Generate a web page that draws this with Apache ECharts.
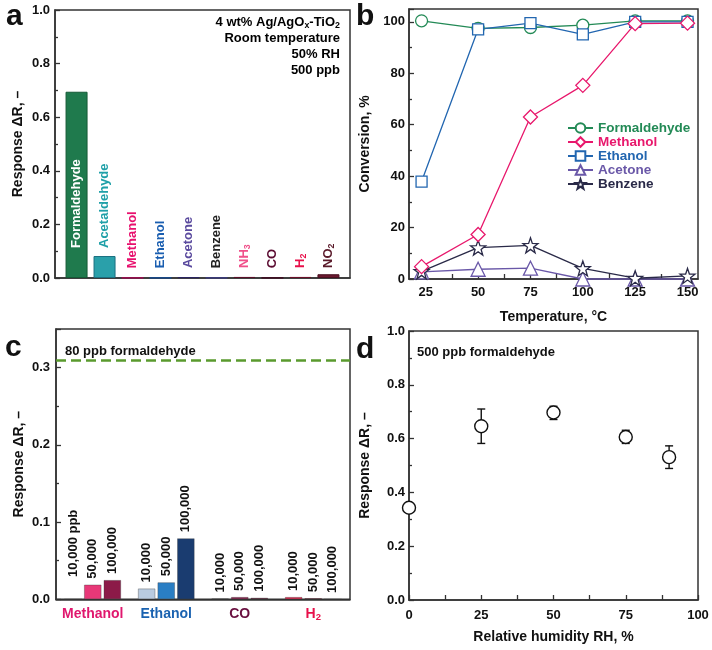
<!DOCTYPE html>
<html><head><meta charset="utf-8">
<script src="https://cdn.jsdelivr.net/npm/echarts@6/dist/echarts.min.js"></script>
<style>html,body{margin:0;padding:0;background:#fff}#c{width:712px;height:650px}</style>
</head><body><div id="c"></div>
<script>
// ---------- Panel a data ----------
const gasesA = ['Formaldehyde','Acetaldehyde','Methanol','Ethanol','Acetone','Benzene','NH3','CO','H2','NO2'];
const responseA = [0.695, 0.082, 0.001, 0.001, 0.003, 0.001, 0.004, 0.001, 0.004, 0.014];
const annotationA = ['4 wt% Ag/AgO{s|x}-TiO{s|2}', 'Room temperature', '50% RH', '500 ppb'];
// ---------- Panel b data ----------
const tempsB = [23, 50, 75, 100, 125, 150];
const tempTicksB = [25, 50, 75, 100, 125, 150];
const convFormaldehyde = [100.4, 97.5, 97.8, 98.7, 100.4, 100.4];
const convMethanol = [4.8, 17.3, 63.0, 75.3, 99.3, 99.5];
const convEthanol = [37.9, 97.1, 99.5, 95.1, 100.0, 100.0];
const convAcetone = [2.8, 3.8, 4.2, 0.0, 0.0, 0.0];
const convBenzene = [3.0, 12.2, 13.1, 4.1, 0.3, 1.2];
// ---------- Panel c data ----------
const gasesC = ['Methanol', 'Ethanol', 'CO', 'H2'];
const concLabelsC = ['10,000', '50,000', '100,000'];
const resp10k = [0.000, 0.014, 0.001, 0.003];
const resp50k = [0.019, 0.022, 0.003, 0.0015];
const resp100k = [0.025, 0.079, 0.002, 0.000];
const formaldehyde80ppb = 0.306;
// ---------- Panel d data ----------
const rhD = [0, 25, 50, 75, 90];
const respD = [0.343, 0.646, 0.697, 0.606, 0.531];
const errLowD = [0.343, 0.582, 0.671, 0.582, 0.489];
const errHighD = [0.343, 0.710, 0.720, 0.631, 0.573];

// ---------- styles ----------
const FONT = 'Liberation Sans, Arial, Helvetica, sans-serif';
const AX = '#333';
const barColorsA = ['#1f7a4d','#2aa0aa','#c8106a','#1a5ca8','#3a3580','#4b4ba0','#7a1a3a','#5a1030','#8a1a3a','#6b1a30'];
const barBordersA = ['#145a36','#1a6f80','#a00a50','#144a90','#2a2560','#3a3a80','#5a1028','#400a20','#6a1028','#4a1020'];
const labelColorsA = ['#ffffff','#1fa0a8','#e8106e','#1a5eb0','#5a4a9e','#222222','#f0508a','#5a0a30','#e8104a','#5a1a2a'];
const labelDistA = [30, 30, 10, 10, 10, 10, 10, 10, 10, 10];
const colors10k = ['#f080a8','#b9cbe0','#8a6a8a','#e8204a'];
const colors50k = ['#e83878','#2a7ec4','#8a1a4a','#a8183f'];
const colors100k = ['#8c1a48','#1a3c70','#6a1a3a','#c02050'];
const groupColorsC = ['#e0186e','#1a62b0','#6a1040','#e8104a'];
const lineColorsB = {Formaldehyde:'#238a56', Methanol:'#e8186c', Ethanol:'#2266b0', Acetone:'#6a58a8', Benzene:'#2a2a48'};
const STAR = 'path://M0,-10L2.35,-3.24L9.51,-3.09L3.8,1.24L5.88,8.09L0,4L-5.88,8.09L-3.8,1.24L-9.51,-3.09L-2.35,-3.24Z';

function subRich(name) {
  const m = name.match(/^(.*?)(\d+)$/);
  return m ? '{m|' + m[1] + '}{s|' + m[2] + '}' : '{m|' + name + '}';
}
function richFor(color, size) {
  return {
    m: {fontSize: size, fontWeight: 'bold', fontFamily: FONT, color: color, lineHeight: 16},
    s: {fontSize: size * 0.68, fontWeight: 'bold', fontFamily: FONT, color: color, lineHeight: 9, verticalAlign: 'bottom'}
  };
}
const tickLabel = {fontSize: 13, fontWeight: 'bold', fontFamily: FONT, color: '#111'};
const nameStyle = {fontSize: 14, fontWeight: 'bold', fontFamily: FONT, color: '#111'};
const axisLine = {show: true, onZero: false, lineStyle: {color: AX, width: 1.5}};
const tickStyle = {color: AX, width: 1.3};

const chart = echarts.init(document.getElementById('c'), null, {renderer: 'canvas'});

const gridBase = {show: true, borderColor: AX, borderWidth: 1.5, backgroundColor: 'transparent', containLabel: false};

const option = {
  animation: false,
  backgroundColor: '#fff',
  grid: [
    Object.assign({left: 55, right: 362, top: 10, bottom: 372}, gridBase),
    Object.assign({left: 409, right: 14, top: 9, bottom: 371}, gridBase),
    Object.assign({left: 56, right: 362, top: 329, bottom: 50.7}, gridBase),
    Object.assign({left: 409, right: 14, top: 331, bottom: 50}, gridBase)
  ],
  xAxis: [
    {gridIndex: 0, type: 'value', min: -0.77, max: 9.77, axisLine: axisLine, axisTick: {show: false},
      axisLabel: {show: false}, splitLine: {show: false}},
    {gridIndex: 1, type: 'value', min: 17, max: 155, axisLine: axisLine, splitLine: {show: false},
      axisTick: {show: true, inside: true, length: 5, lineStyle: tickStyle,
        customValues: tempTicksB.concat(tempTicksB.slice(1).map((v, i) => (v + tempTicksB[i]) / 2))},
      axisLabel: Object.assign({customValues: tempTicksB, margin: 7}, tickLabel),
      name: 'Temperature, °C', nameLocation: 'middle', nameGap: 31, nameTextStyle: nameStyle},
    {gridIndex: 2, type: 'category', data: gasesC, axisLine: axisLine, axisTick: {show: false}, splitLine: {show: false},
      axisLabel: {margin: 7, interval: 0,
        formatter: (v, i) => subRich(v).replace(/\{m\|/g, '{m' + i + '|').replace(/\{s\|/g, '{s' + i + '|'),
        rich: Object.assign({}, ...groupColorsC.map((c, i) => {
          const r = richFor(c, 14); return {['m' + i]: r.m, ['s' + i]: r.s};
        }))}},
    {gridIndex: 3, type: 'value', min: 0, max: 100, interval: 25, axisLine: axisLine, splitLine: {show: false},
      axisTick: {show: true, inside: true, length: 5, lineStyle: tickStyle},
      minorTick: {show: true, splitNumber: 2, length: 5, lineStyle: tickStyle},
      axisLabel: Object.assign({margin: 9}, tickLabel),
      name: 'Relative humidity RH, %', nameLocation: 'middle', nameGap: 30, nameTextStyle: nameStyle}
  ],
  yAxis: [
    {gridIndex: 0, type: 'value', min: 0, max: 1, interval: 0.2, axisLine: axisLine, splitLine: {show: false},
      axisTick: {show: true, inside: true, length: 5, lineStyle: tickStyle},
      minorTick: {show: true, splitNumber: 2, length: 3, lineStyle: tickStyle},
      axisLabel: Object.assign({margin: 5, formatter: v => v.toFixed(1)}, tickLabel),
      name: 'Response ΔR, –', nameLocation: 'middle', nameGap: 30, nameTextStyle: nameStyle},
    {gridIndex: 1, type: 'value', min: 0, max: 105, interval: 20, axisLine: axisLine, splitLine: {show: false},
      axisTick: {show: true, inside: true, length: 5, lineStyle: tickStyle},
      minorTick: {show: true, splitNumber: 2, length: 3, lineStyle: tickStyle},
      axisLabel: Object.assign({margin: 4, showMaxLabel: false}, tickLabel),
      name: 'Conversion, %', nameLocation: 'middle', nameGap: 37, nameTextStyle: nameStyle},
    {gridIndex: 2, type: 'value', min: 0, max: 0.35, interval: 0.1, axisLine: axisLine, splitLine: {show: false},
      axisTick: {show: true, inside: true, length: 5, lineStyle: tickStyle},
      minorTick: {show: true, splitNumber: 2, length: 3, lineStyle: tickStyle},
      axisLabel: Object.assign({margin: 6, showMaxLabel: false, formatter: v => v.toFixed(1)}, tickLabel),
      name: 'Response ΔR, –', nameLocation: 'middle', nameGap: 30, nameTextStyle: nameStyle},
    {gridIndex: 3, type: 'value', min: 0, max: 1, interval: 0.2, axisLine: axisLine, splitLine: {show: false},
      axisTick: {show: true, inside: true, length: 5, lineStyle: tickStyle},
      minorTick: {show: true, splitNumber: 2, length: 3, lineStyle: tickStyle},
      axisLabel: Object.assign({margin: 4, formatter: v => v.toFixed(1)}, tickLabel),
      name: 'Response ΔR, –', nameLocation: 'middle', nameGap: 37, nameTextStyle: nameStyle}
  ],
  legend: {
    left: 562, top: 116, orient: 'vertical', itemWidth: 25, itemHeight: 12, itemGap: 0,
    textStyle: {fontSize: 13.5, fontWeight: 'bold', fontFamily: FONT, lineHeight: 14},
    data: Object.keys(lineColorsB).map(n => ({name: n, textStyle: {color: lineColorsB[n]}}))
  },
  series: [],
  graphic: []
};

// Panel a bars
option.series.push({
  name: 'responseA', type: 'bar', xAxisIndex: 0, yAxisIndex: 0, barWidth: 22,
  data: gasesA.map((g, i) => ({
    value: [i, responseA[i]],
    itemStyle: {color: barColorsA[i], borderColor: barBordersA[i], borderWidth: 1},
    label: {show: true, position: 'insideBottom', rotate: 90, align: 'left', verticalAlign: 'middle',
      distance: labelDistA[i], formatter: subRich(g), rich: richFor(labelColorsA[i], 13)}
  }))
});

// Panel b lines
const seriesB = [
  ['Acetone', convAcetone, 'triangle', 14],
  ['Benzene', convBenzene, STAR, 15],
  ['Formaldehyde', convFormaldehyde, 'circle', 12],
  ['Ethanol', convEthanol, 'rect', 11],
  ['Methanol', convMethanol, 'diamond', 14]
];
seriesB.forEach(([name, vals, sym, size]) => {
  option.series.push({
    name: name, type: 'line', xAxisIndex: 1, yAxisIndex: 1, symbol: sym, symbolSize: size,
    showAllSymbol: true, clip: false,
    lineStyle: {color: lineColorsB[name], width: 1.3},
    itemStyle: {color: '#ffffff', borderColor: lineColorsB[name], borderWidth: 1.3},
    data: tempsB.map((t, i) => [t, vals[i]])
  });
});

// Panel c bars
[[resp10k, colors10k, 0], [resp50k, colors50k, 1], [resp100k, colors100k, 2]].forEach(([vals, cols, k]) => {
  option.series.push({
    name: 'conc' + k, type: 'bar', xAxisIndex: 2, yAxisIndex: 2, barWidth: 17.5, barGap: '12%',
    data: vals.map((v, i) => ({
      value: v,
      itemStyle: {color: cols[i], borderColor: 'rgba(60,60,60,0.45)', borderWidth: 0.8},
      label: {show: true, position: 'top', rotate: 90, align: 'left', verticalAlign: 'middle',
        distance: (k === 0 && i === 0) ? 22 : 6,
        formatter: concLabelsC[k] + ((k === 0 && i === 0) ? ' ppb' : ''),
        fontSize: 13, fontWeight: 'bold', fontFamily: FONT, color: '#111'}
    })),
    markLine: k === 0 ? {
      silent: true, symbol: ['none', 'none'], label: {show: false},
      lineStyle: {color: '#5a9a2e', width: 2.5, type: [10, 5]},
      data: [{yAxis: formaldehyde80ppb}]
    } : undefined
  });
});

// Panel d error bars + points
option.series.push({
  name: 'errD', type: 'custom', xAxisIndex: 3, yAxisIndex: 3,
  data: rhD.map((x, i) => [x, errLowD[i], errHighD[i]]),
  encode: {x: 0, y: [1, 2]},
  renderItem: (params, api) => {
    const x = api.value(0);
    const pLo = api.coord([x, api.value(1)]);
    const pHi = api.coord([x, api.value(2)]);
    const w = 4, st = {stroke: '#111', lineWidth: 1.4};
    return {type: 'group', children: [
      {type: 'line', shape: {x1: pLo[0], y1: pLo[1], x2: pHi[0], y2: pHi[1]}, style: st},
      {type: 'line', shape: {x1: pLo[0] - w, y1: pLo[1], x2: pLo[0] + w, y2: pLo[1]}, style: st},
      {type: 'line', shape: {x1: pHi[0] - w, y1: pHi[1], x2: pHi[0] + w, y2: pHi[1]}, style: st}
    ]};
  }
});
option.series.push({
  name: 'respD', type: 'scatter', xAxisIndex: 3, yAxisIndex: 3, symbol: 'circle', symbolSize: 13, z: 5,
  itemStyle: {color: '#ffffff', borderColor: '#111', borderWidth: 1.4, opacity: 1},
  data: rhD.map((x, i) => [x, respD[i]])
});

// Graphic texts
const panelLetter = (t, x, y) => ({type: 'text', left: x, top: y, z: 100,
  style: {text: t, fontSize: 30, fontWeight: 'bold', fontFamily: FONT, fill: '#111'}});
option.graphic.push(panelLetter('a', 6, 2), panelLetter('b', 356, 2), panelLetter('c', 5, 333), panelLetter('d', 356, 335));
annotationA.forEach((t, i) => {
  option.graphic.push({type: 'text', z: 100, x: 340, y: 22 + i * 16.3,
    style: {text: '{m|' + t.replace(/\{s\|(\w+)\}/g, '}{s|$1}{m|') + '}', rich: richFor('#111', 13),
      textAlign: 'right', textVerticalAlign: 'middle'}});
});
option.graphic.push({type: 'text', z: 100, x: 65, y: 351,
  style: {text: '80 ppb formaldehyde', fontSize: 13, fontWeight: 'bold', fontFamily: FONT, fill: '#111', textVerticalAlign: 'middle'}});
option.graphic.push({type: 'text', z: 100, x: 417, y: 352,
  style: {text: '500 ppb formaldehyde', fontSize: 13, fontWeight: 'bold', fontFamily: FONT, fill: '#111', textVerticalAlign: 'middle'}});

chart.setOption(option);
</script>
</body></html>
